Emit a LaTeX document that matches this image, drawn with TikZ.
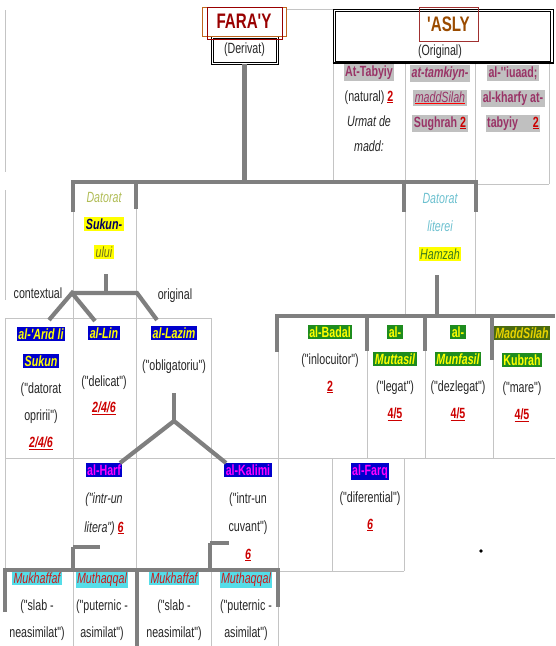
\documentclass[tikz,border=0pt]{standalone}
\usepackage{fontspec}
\setmainfont{Liberation Sans}[FakeStretch=0.72,Ligatures=TeXOff]
\usetikzlibrary{positioning,calc}

\definecolor{linegray}{HTML}{7F7F7F}
\definecolor{gridgray}{HTML}{C4C4C4}
\definecolor{textgray}{HTML}{262626}
\definecolor{farared}{HTML}{990000}
\definecolor{farabrown}{HTML}{C0661E}
\definecolor{aslybrown}{HTML}{9A4B00}
\definecolor{aslyline}{HTML}{A03030}
\definecolor{tabmaroon}{HTML}{993366}
\definecolor{hlgray}{HTML}{C0C0C0}
\definecolor{numred}{HTML}{CC0000}
\definecolor{datolive}{HTML}{B0BC55}
\definecolor{datblue}{HTML}{6CC0CF}
\definecolor{sukunnavy}{HTML}{000060}
\definecolor{uluiolive}{HTML}{6E6E1E}
\definecolor{hamgreen}{HTML}{3C7A1E}
\definecolor{hlyellow}{HTML}{FFFF00}
\definecolor{hlblue}{HTML}{0000CC}
\definecolor{hlgreen}{HTML}{1E8C1E}
\definecolor{hlolive}{HTML}{4A6A10}
\definecolor{madgold}{HTML}{E8D400}
\definecolor{harfmag}{HTML}{FF00FF}
\definecolor{hlcyan}{HTML}{55DDE8}
\definecolor{mukred}{HTML}{CC1A1A}

\newcommand{\hlbox}[3]{{\setlength{\fboxsep}{1.5pt}\colorbox{#1}{\textcolor{#2}{#3}}}}
\newcommand{\numu}[1]{\textcolor{numred}{\bfseries\underline{#1}}}
\newcommand{\numi}[1]{\textcolor{numred}{\bfseries\itshape\underline{#1}}}
\newcommand{\cellfont}{\fontsize{14.8}{27}\selectfont}

\begin{document}
\begin{tikzpicture}[
    x=1pt, y=-1pt,
    conn/.style={draw=linegray, line width=4.2pt},
    grid/.style={draw=gridgray, line width=0.7pt},
    frame/.style={draw=black, line width=0.8pt},
    cell/.style={align=center, anchor=base, inner sep=0pt, text=textgray, font=\cellfont},
    titlebox/.style={inner sep=0pt, font=\fontsize{21}{24}\selectfont\bfseries}
]
\useasboundingbox (0,0) rectangle (555,646);

% Table lines (cells are placed by the baseline of their last line)
\draw[grid] (286,9) -- (333,9);
\draw[grid] (5,10) -- (5,172) (5,190) -- (5,300) (5,318) -- (5,570);
\draw[grid] (333,63) -- (333,183) (405,63) -- (405,316) (475,63) -- (475,316) (549,63) -- (549,184) (475,184) -- (549,184);
\draw[grid] (73,182) -- (73,646) (136,182) -- (136,646) (211,318) -- (211,646);
\draw[grid] (5,318) -- (211,318) (5,458) -- (555,458) (278,571) -- (404,571);
\draw[grid] (278,316) -- (278,646) (367,316) -- (367,458) (425,316) -- (425,458) (493,316) -- (493,458);
\draw[grid] (332,458) -- (332,571) (404,458) -- (404,571);

% Header
\node[cell, frame, anchor=center, minimum width=67, minimum height=28] (derivat) at (244.5,50) {(Derivat)};
\draw[frame] ($(derivat.north west)+(2.5,2.5)$) rectangle ($(derivat.south east)+(-2.5,-2.5)$);
\node[titlebox, draw=farabrown, fill=white, minimum width=84, minimum height=29] (faray) at (244,21.5) {\textcolor{farared}{FARA'Y}};
\draw[farared] ($(faray.north west)+(5,0)$) rectangle ($(faray.south east)+(-4,3)$);

\node[frame, minimum width=220, minimum height=54, inner sep=0pt] (aslyframe) at (443,36) {};
\draw[frame] ($(aslyframe.north west)+(3,2.5)$) rectangle ($(aslyframe.south east)+(-3,-2.5)$);
\draw[line width=2pt] (aslyframe.south west) -- (aslyframe.south east);
\node[titlebox, draw=aslyline, minimum width=59, minimum height=34] (asly) at (448.5,24) {\textcolor{aslybrown}{'ASLY}};
\node[cell] (original) at (440,55) {(Original)};

% Original types
\node[cell, font=\fontsize{14.8}{25}\selectfont] (tabyiy) at (369,151)
  {\hlbox{hlgray}{tabmaroon}{\bfseries At-Tabyiy}\\ (natural) \numu{2}\\ \textit{Urmat de}\\ \textit{madd:}};
\node[cell, font=\fontsize{14.8}{25}\selectfont] (tamkiyn) at (440,127)
  {\hlbox{hlgray}{tabmaroon}{\bfseries\itshape at-tamkiyn-}\\
   \hlbox{hlgray}{tabmaroon}{\itshape{\color{red}\underline{\textcolor{tabmaroon}{maddSilah}}}}\\
   \hlbox{hlgray}{tabmaroon}{\bfseries Sughrah \numu{2}}};
\node[cell, font=\fontsize{14.8}{25}\selectfont] (iuaad) at (513,127)
  {\hlbox{hlgray}{tabmaroon}{\bfseries al-''iuaad;}\\ \hlbox{hlgray}{tabmaroon}{\bfseries al-kharfy at-}\\
   \hlbox{hlgray}{tabmaroon}{\bfseries tabyiy\quad \numu{2}}};

% Derived types
\node[cell, font=\fontsize{14.8}{27.5}\selectfont] (sukun) at (104,257)
  {\textcolor{datolive}{\itshape Datorat}\\ \hlbox{hlyellow}{sukunnavy}{\bfseries\itshape Sukun-}\\ \hlbox{hlyellow}{uluiolive}{\itshape ului}};
\node[cell, font=\fontsize{14.8}{28}\selectfont] (hamzah) at (440,259)
  {\textcolor{datblue}{\itshape Datorat}\\ \textcolor{datblue}{\itshape literei}\\ \hlbox{hlyellow}{hamgreen}{\itshape Hamzah}};
\node[cell] (contextual) at (38,298) {contextual};
\node[cell] (originalb) at (175,299) {original};

% Sukun row
\node[cell] (arid) at (41,447)
  {\hlbox{hlblue}{hlyellow}{\bfseries\itshape al-'Arid li}\\ \hlbox{hlblue}{hlyellow}{\bfseries\itshape Sukun}\\ ("datorat\\ opririi")\\ \numi{2/4/6}};
\node[cell, font=\fontsize{14.8}{26}\selectfont] (lin) at (104,412)
  {\hlbox{hlblue}{hlyellow}{\bfseries\itshape al-Lin}\\[22pt] ("delicat")\\ \numi{2/4/6}};
\node[cell] (lazim) at (174,370)
  {\hlbox{hlblue}{hlyellow}{\bfseries\itshape al-Lazim}\\[5pt] ("obligatoriu")};

% Hamzah row
\node[cell] (badal) at (330,391)
  {\hlbox{hlgreen}{hlyellow}{\bfseries al-Badal}\\ ("inlocuitor")\\ \numu{2}};
\node[cell] (muttasil) at (395,418)
  {\hlbox{hlgreen}{hlyellow}{\bfseries al-}\\ \hlbox{hlgreen}{hlyellow}{\bfseries\itshape Muttasil}\\ ("legat")\\ \numu{4/5}};
\node[cell] (munfasil) at (458,418)
  {\hlbox{hlgreen}{hlyellow}{\bfseries al-}\\ \hlbox{hlgreen}{hlyellow}{\bfseries\itshape Munfasil}\\ ("dezlegat")\\ \numu{4/5}};
\node[cell] (maddsilah) at (522,419)
  {\hlbox{hlolive}{madgold}{\bfseries\itshape MaddSilah}\\ \hlbox{hlgreen}{hlyellow}{\bfseries Kubrah}\\ ("mare")\\ \numu{4/5}};

% Lazim row
\node[cell, font=\fontsize{14.8}{28.5}\selectfont] (harf) at (104,532)
  {\hlbox{hlblue}{harfmag}{\bfseries al-Harf}\\ \textit{("intr-un}\\ \textit{litera")} \numi{6}};
\node[cell, font=\fontsize{14.8}{28}\selectfont] (kalimi) at (248,559)
  {\hlbox{hlblue}{harfmag}{\bfseries al-Kalimi}\\ ("intr-un\\ cuvant")\\ \numi{6}};
\node[cell] (farq) at (370,529)
  {\hlbox{hlblue}{harfmag}{\bfseries al-Farq}\\ ("diferential")\\ \numi{6}};

% Bottom row
\node[cell] (mukhaffafa) at (37,637) {\hlbox{hlcyan}{mukred}{\itshape Mukhaffaf}\\ ("slab -\\ neasimilat")};
\node[cell] (muthaqqala) at (102,637) {\hlbox{hlcyan}{mukred}{\itshape Muthaqqal}\\ ("puternic -\\ asimilat")};
\node[cell] (mukhaffafb) at (174,637) {\hlbox{hlcyan}{mukred}{\itshape Mukhaffaf}\\ ("slab -\\ neasimilat")};
\node[cell] (muthaqqalb) at (246,637) {\hlbox{hlcyan}{mukred}{\itshape Muthaqqal}\\ ("puternic -\\ asimilat")};

% Brackets
\coordinate (busL) at (73,182);
\coordinate (busR) at (476,182);
\draw[conn] (derivat.south) -- (derivat.south |- busL);
\draw[conn] ($(busL)+(0,30)$) -- (busL) -- (busR) -- ++(0,30);
\draw[conn] (136,182) -- ++(0,27) (404,182) -- ++(0,30);

\coordinate (sukstem) at (106,274);
\coordinate (ctxfork) at (72,293);
\coordinate (orgfork) at (137,293);
\coordinate (aridtop) at (49,320);
\coordinate (lintop) at (95,321);
\coordinate (lazimtop) at (157,320);
\draw[conn] (sukstem) -- (sukstem |- ctxfork);
\draw[conn] (aridtop) -- (ctxfork) -- (lintop);
\draw[conn] (ctxfork) -- (orgfork) -- (lazimtop);

\coordinate (lazstem) at (174,393);
\coordinate (lazfork) at (174,421);
\coordinate (harftop) at (120,463);
\coordinate (kalimitop) at (226,463);
\draw[conn] (lazstem) -- (lazfork);
\draw[conn] (harftop) -- (lazfork) -- (kalimitop);

\coordinate (hamstem) at (437,275);
\coordinate (hambus) at (437,316);
\draw[conn] (hamstem) -- (hambus);
\draw[conn] (277,352) -- (277,316) -- (555,316);
\draw[conn] (367,316) -- (367,351) (425,316) -- (425,351) (492,316) -- (492,360);

\coordinate (harfstem) at (73,547);
\coordinate (kalstem) at (210,543);
\draw[conn] (harfstem) -- ++(27,0) (harfstem) -- (73,570);
\draw[conn] (kalstem) -- ++(19,0) (kalstem) -- (210,570);
\draw[conn] (5,612) -- (5,570) -- (278,570) -- (278,607);
\draw[conn] (137,570) -- (137,646);

\fill (481,551) circle (1.8);
\end{tikzpicture}
\end{document}
